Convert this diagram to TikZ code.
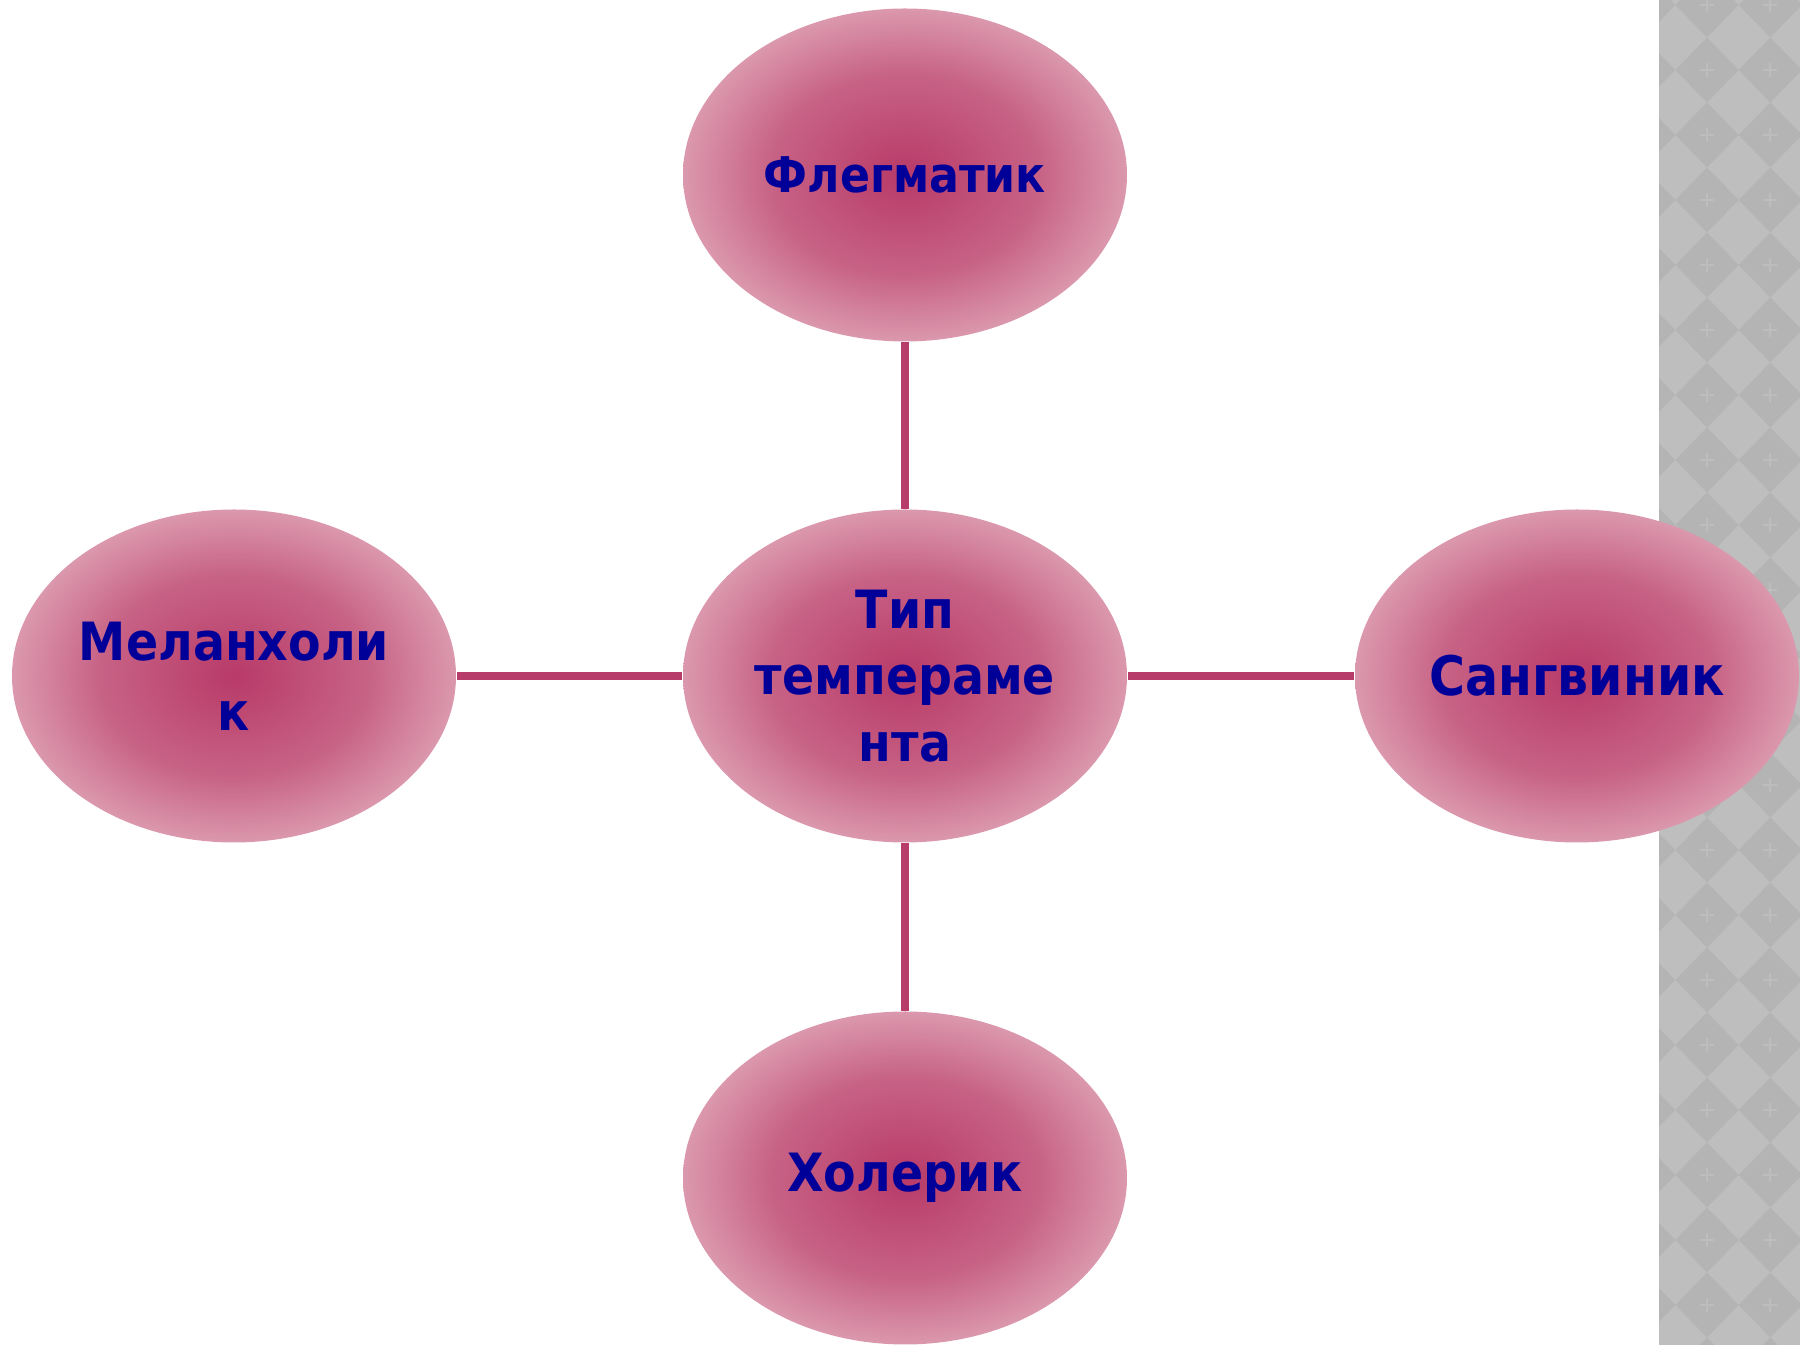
\documentclass[tikz,border=0pt]{standalone}
\usepackage{fontspec}
\setmainfont{DejaVu Sans Condensed}[BoldFont={DejaVu Sans Condensed Bold}]
\usetikzlibrary{shapes.geometric}

\definecolor{petalin}{RGB}{184,58,104}
\definecolor{petalmid}{RGB}{199,98,133}
\definecolor{petalout}{RGB}{219,152,173}
\definecolor{linkcol}{RGB}{184,60,106}
\definecolor{textcol}{RGB}{0,0,153}
\definecolor{stripbase}{RGB}{190,190,190}
\definecolor{stripdark}{RGB}{180,180,180}
\definecolor{stripmark}{RGB}{189,189,189}
\pgfdeclareradialshading{petal}{\pgfpointorigin}{color(0bp)=(petalin); color(15bp)=(petalmid); color(25bp)=(petalout); color(50bp)=(petalout)}

\begin{document}
\begin{tikzpicture}[
	petalnode/.style={ellipse, shading=petal, minimum width=4.44cm, minimum height=3.33cm, inner sep=0pt, align=center, text=textcol, font=\bfseries\fontsize{15}{19}\selectfont},
	link/.style={draw=linkcol, line width=2.3pt}]
	\useasboundingbox (0,0) rectangle (18,13.45);

	% side strip
	\begin{scope}
		\clip (16.59,0) rectangle (18,13.45);
		\fill[stripbase] (16.59,0) rectangle (18,13.45);
		\foreach \i in {-1,0,1}
			\foreach \j in {0,...,21} {
				\fill[stripdark, shift={({17.07+0.633*\i},{13.40-0.65*\j})}] (0.3165,0) -- (0,0.325) -- (-0.3165,0) -- (0,-0.325) -- cycle;
				\draw[stripmark, line width=0.6pt, shift={({17.07+0.633*\i},{13.40-0.65*\j})}] (-0.07,0) -- (0.07,0) (0,-0.07) -- (0,0.07);
			}
	\end{scope}

	\node[petalnode] (type) at (9.05,6.69) {Тип\\темпераме\\нта};
	\node[petalnode, font=\bfseries\fontsize{14}{18}\selectfont] (phleg) at (9.05,11.70) {Флегматик};
	\node[petalnode] (chol) at (9.05,1.67) {Холерик};
	\node[petalnode, font=\bfseries\fontsize{15}{20}\selectfont] (melan) at (2.34,6.69) {Меланхоли\\к};
	\node[petalnode, font=\bfseries\fontsize{15.5}{19}\selectfont] (sang) at (15.77,6.69) {Сангвиник};

	\draw[link] (type) -- (phleg);
	\draw[link] (type) -- (chol);
	\draw[link] (type) -- (melan);
	\draw[link] (type) -- (sang);
\end{tikzpicture}
\end{document}
